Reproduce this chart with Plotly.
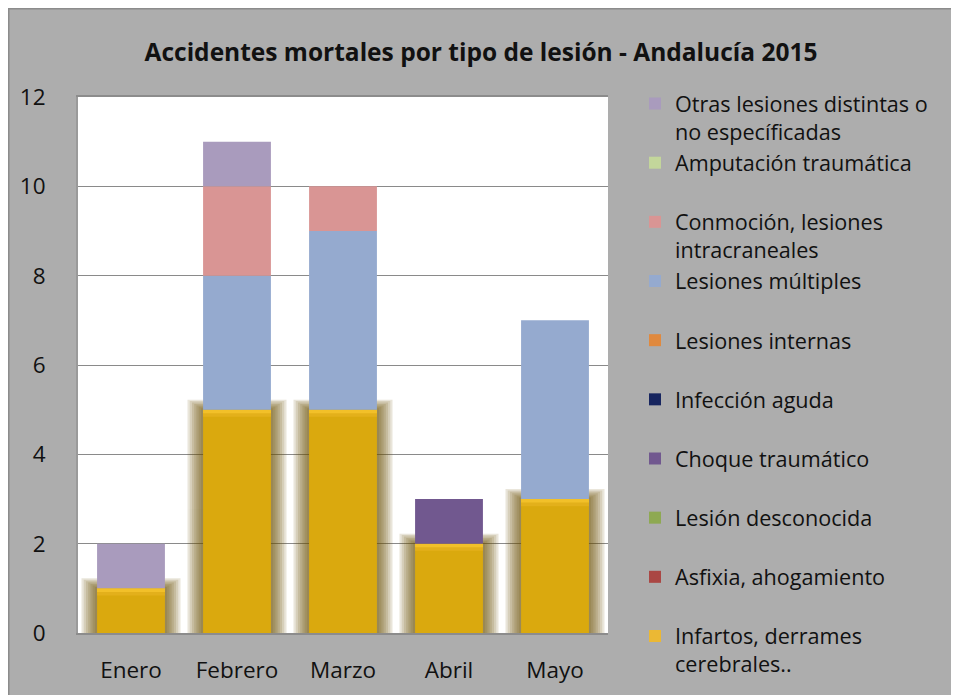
import numpy as np
import plotly.graph_objects as go

months = ["Enero", "Febrero", "Marzo", "Abril", "Mayo"]

# series from bottom of stack to top
infartos = [1, 5, 5, 2, 3]
asfixia = [0, 0, 0, 0, 0]
desconocida = [0, 0, 0, 0, 0]
choque = [0, 0, 0, 1, 0]
infeccion = [0, 0, 0, 0, 0]
internas = [0, 0, 0, 0, 0]
multiples = [0, 3, 4, 0, 4]
conmocion = [0, 2, 1, 0, 0]
amputacion = [0, 0, 0, 0, 0]
otras = [1, 1, 0, 0, 0]

series_names = [
    "Infartos, derrames<br>cerebrales..",
    "Asfixia, ahogamiento<br> ",
    "Lesión desconocida<br> ",
    "Choque traumático<br> ",
    "Infección aguda<br> ",
    "Lesiones internas<br> ",
    "Lesiones múltiples<br> ",
    "Conmoción, lesiones<br>intracraneales",
    "Amputación traumática<br> ",
    "Otras lesiones distintas o<br>no específicadas",
]
series_values = [infartos, asfixia, desconocida, choque, infeccion,
                 internas, multiples, conmocion, amputacion, otras]
series_colors = ["#DAA90E", "#AA4744", "#8EA952", "#71588F", "#17255F",
                 "#E0893E", "#95AACF", "#D99594", "#C3D69B", "#A99BBD"]
legend_colors = ["#EBB834"] + series_colors[1:]

FONT = "Open Sans"
BW = 0.64

fig = go.Figure()

# soft glow behind the bottom series
inf = np.array(infartos, dtype=float)
for k in range(7, 0, -1):
    fig.add_trace(go.Bar(
        x=months, y=inf + 0.032 * k, base=np.zeros(5), width=BW + 0.042 * k,
        marker=dict(color="#6B5000", line=dict(width=0)), opacity=0.14,
        showlegend=False, hoverinfo="skip"))

base = np.zeros(5)
for name, vals, col, lcol in zip(series_names, series_values, series_colors, legend_colors):
    v = np.array(vals, dtype=float)
    fig.add_trace(go.Bar(
        x=months, y=v, base=base.copy(), width=BW, name=name,
        marker=dict(color=col, line=dict(width=0)), showlegend=False))
    # legend entry proxy so the legend swatch can use its own tone
    fig.add_trace(go.Bar(
        x=[months[0]], y=[0], base=[0], name=name,
        marker=dict(color=lcol, line=dict(width=0)), showlegend=True,
        hoverinfo="skip"))
    if col == "#DAA90E":
        # brighter top edge of the bottom series
        fig.add_trace(go.Bar(x=months, y=[0.16] * 5, base=v - 0.16, width=BW,
                             marker=dict(color="#E3B01B", line=dict(width=0)),
                             showlegend=False, hoverinfo="skip"))
        fig.add_trace(go.Bar(x=months, y=[0.08] * 5, base=v - 0.08, width=BW,
                             marker=dict(color="#F2C029", line=dict(width=0)),
                             showlegend=False, hoverinfo="skip"))
    base = base + v

# geometry in figure pixels (the page body offsets the figure by 8px);
# the figure is a little larger than the window so the grey runs to the edges
W, H = 975, 711
PL, PR, PT, PB = 70, 600, 89, 625         # plot area in figure pixels
ML, MR, MT, MB = PL, W - PR, 20, 36       # margins
GH = H - MT - MB
GW = W - ML - MR


def px_x(p):
    return (p - ML) / GW


def px_y(p):
    return (H - MB - p) / GH


# outer border: top and left edge of the chart area
fig.add_shape(type="line", xref="paper", yref="paper",
              x0=px_x(0), x1=px_x(W + 20), y0=px_y(0.5), y1=px_y(0.5),
              line=dict(color="#8C8C8C", width=2), layer="below")
fig.add_shape(type="line", xref="paper", yref="paper",
              x0=px_x(0.5), x1=px_x(0.5), y0=px_y(H + 20), y1=px_y(0),
              line=dict(color="#8C8C8C", width=2), layer="below")

fig.update_layout(
    width=W, height=H,
    barmode="overlay",
    paper_bgcolor="#ADADAD",
    plot_bgcolor="white",
    margin=dict(l=ML, r=MR, t=MT, b=MB, pad=0, autoexpand=False),
    font=dict(family=FONT, size=22, color="#111111"),
    title=dict(text="<b>Accidentes mortales por tipo de lesión - Andalucía 2015</b>",
               font=dict(family=FONT, size=24.5, color="#111111"),
               x=473 / W, xanchor="center", y=1 - 44 / H, yanchor="middle"),
    showlegend=True,
    legend=dict(traceorder="reversed", valign="top", x=px_x(627), xanchor="left",
                y=px_y(75), yanchor="top", bgcolor="rgba(0,0,0,0)",
                font=dict(family=FONT, size=21.6, color="#111111"),
                itemclick=False, itemdoubleclick=False),
)
fig.update_xaxes(showgrid=False, showline=True, linecolor="#8C8C8C", linewidth=2,
                 mirror=True, ticks="outside", ticklen=16, tickcolor="rgba(0,0,0,0)",
                 tickfont=dict(family=FONT, size=22.5, color="#111111"), fixedrange=True)
fig.update_yaxes(range=[0, 12], dtick=2, showgrid=True, gridcolor="#8A8A8A", gridwidth=1,
                 domain=[px_y(PB), px_y(PT)],
                 showline=True, linecolor="#9A9A9A", linewidth=2, zeroline=False,
                 ticks="outside", ticklen=26, tickcolor="rgba(0,0,0,0)",
                 tickfont=dict(family=FONT, size=22.5, color="#111111"), fixedrange=True)

fig.write_html(
    "out.html",
    post_script="document.documentElement.style.overflow='hidden';"
                "document.body.style.overflow='hidden';",
)
